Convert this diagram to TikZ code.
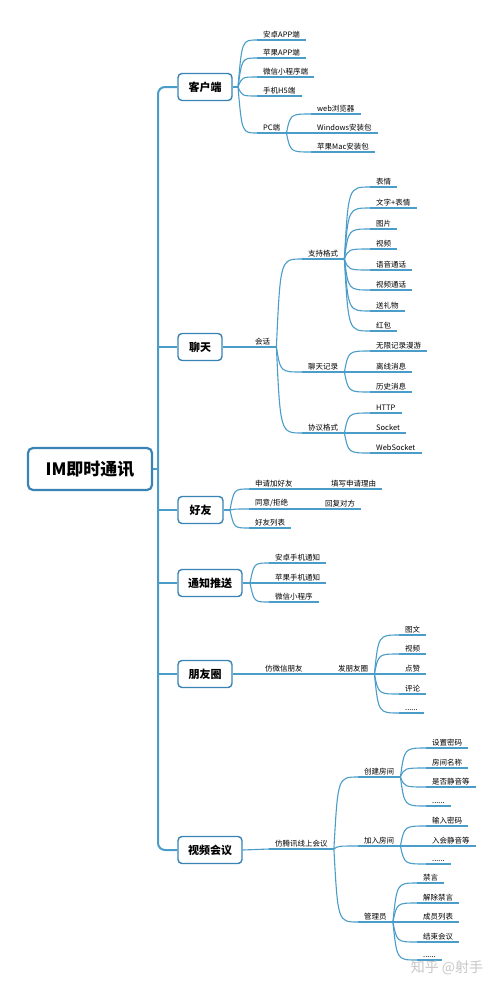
\documentclass[tikz,border=0pt]{standalone}
\usepackage{fontspec}
\setmainfont{Noto Sans CJK SC}
\usetikzlibrary{calc}
\definecolor{ln}{HTML}{4A9DC9}
\definecolor{bd}{HTML}{3983B5}
\tikzset{
  leaf/.style={anchor=south west, inner xsep=6pt, inner ysep=2pt, font=\fontsize{7.5}{9}\selectfont, text=black},
  ul/.style={draw=ln, line width=1.1pt},
  conn/.style={draw=ln, line width=1.1pt},
  spine/.style={draw=ln, line width=2pt},
  cat/.style={draw=bd, line width=1.4pt, rounded corners=4pt, fill=white, font=\fontsize{11}{13}\selectfont\bfseries, inner sep=0pt, minimum height=27pt, text=black},
  rootbox/.style={draw=bd, line width=2.2pt, rounded corners=5pt, fill=white, font=\fontsize{17}{20}\selectfont\bfseries, inner sep=0pt, minimum width=124pt, minimum height=42pt, text=black},
}
\newcommand\lf[4]{\node[leaf] (#1) at (#2,#3) {#4}; \draw[ul] (#1.south west) -- (#1.south east);}
\newcommand\br[2]{\draw[conn] let \p1=(#1), \p2=(#2.south west) in (\p1) .. controls (\x1+4pt,\y2) .. (\p2);}
\begin{document}
\begin{tikzpicture}[x=1pt,y=-1pt]
\fill[white] (0,0) rectangle (500,989);
\useasboundingbox (0,0) rectangle (500,989);

% root and categories
\node[rootbox] (root) at (90,469) {IM即时通讯};
\node[cat, minimum width=54pt] (c1) at (205,87) {客户端};
\node[cat, minimum width=44pt] (c2) at (200,347) {聊天};
\node[cat, minimum width=45pt] (c3) at (200.5,510) {好友};
\node[cat, minimum width=64pt] (c4) at (210,583) {通知推送};
\node[cat, minimum width=54pt] (c5) at (205,674) {朋友圈};
\node[cat, minimum width=64pt] (c6) at (210,850) {视频会议};

\coordinate (sp) at (158,469);
\draw[spine, rounded corners=7pt] (c1.west) -| (sp) |- (c6.west);
\draw[spine] (root.east) -- (sp);
\draw[spine] (sp |- c2.west) -- (c2.west);
\draw[spine] (sp |- c3.west) -- (c3.west);
\draw[spine] (sp |- c4.west) -- (c4.west);
\draw[spine] (sp |- c5.west) -- (c5.west);

% 客户端
\coordinate (kb) at (238,87);
\draw[conn] (c1.east) -- (kb);
\lf{k1}{257}{40}{安卓APP端}
\lf{k2}{257}{58}{苹果APP端}
\lf{k3}{257}{77}{微信小程序端}
\lf{k4}{257}{96}{手机H5端}
\lf{k5}{257}{133}{PC端}
\foreach \q in {k1,k2,k3,k4,k5} {\br{kb}{\q}}
\lf{k51}{311}{114}{web浏览器}
\lf{k52}{311}{133}{Windows安装包}
\lf{k53}{311}{152}{苹果Mac安装包}
\foreach \q in {k51,k52,k53} {\br{k5.south east}{\q}}

% 聊天
\lf{h0}{249}{347}{会话\hspace{4pt}}
\draw[conn] (c2.east) -- (h0.south west);
\lf{h1}{302}{259}{支持格式\hspace{3pt}}
\lf{h2}{302}{372}{聊天记录\hspace{3pt}}
\lf{h3}{302}{433}{协议格式\hspace{3pt}}
\foreach \q in {h1,h2,h3} {\br{h0.south east}{\q}}
\lf{h11}{370}{187}{表情}
\lf{h12}{370}{208}{文字+表情}
\lf{h13}{370}{229}{图片}
\lf{h14}{370}{249}{视频}
\lf{h15}{370}{270}{语音通话}
\lf{h16}{370}{290}{视频通话}
\lf{h17}{370}{311}{送礼物}
\lf{h18}{370}{331}{红包}
\foreach \q in {h11,h12,h13,h14,h15,h16,h17,h18} {\br{h1.south east}{\q}}
\lf{h21}{370}{351}{无限记录漫游}
\lf{h22}{370}{372}{离线消息}
\lf{h23}{370}{392}{历史消息}
\foreach \q in {h21,h22,h23} {\br{h2.south east}{\q}}
\lf{h31}{370}{413}{HTTP}
\lf{h32}{370}{433}{Socket}
\lf{h33}{370}{453}{WebSocket}
\foreach \q in {h31,h32,h33} {\br{h3.south east}{\q}}

% 好友
\coordinate (fb) at (230,510);
\draw[conn] (c3.east) -- (fb);
\lf{f1}{249}{489}{申请加好友}
\lf{f2}{249}{509}{同意/拒绝}
\lf{f3}{249}{528}{好友列表}
\foreach \q in {f1,f2,f3} {\br{fb}{\q}}
\lf{f1b}{325}{489}{填写申请理由}
\draw[conn] (f1.south east) -- (f1b.south west);
\lf{f2b}{319}{509}{回复对方}
\draw[conn] (f2.south east) -- (f2b.south west);

% 通知推送
\coordinate (tb) at (250,583);
\draw[conn] (c4.east) -- (tb);
\lf{t1}{269}{563}{安卓手机通知}
\lf{t2}{269}{583}{苹果手机通知}
\lf{t3}{269}{602}{微信小程序}
\foreach \q in {t1,t2,t3} {\br{tb}{\q}}

% 朋友圈
\lf{p0}{259}{674}{仿微信朋友}
\draw[conn] (c5.east) -- (p0.south west);
\lf{p1}{332}{674}{发朋友圈\hspace{4pt}}
\draw[conn] (p0.south east) -- (p1.south west);
\lf{p11}{399}{635}{图文}
\lf{p12}{399}{654}{视频}
\lf{p13}{399}{674}{点赞}
\lf{p14}{399}{694}{评论}
\lf{p15}{399}{713}{......}
\foreach \q in {p11,p12,p13,p14,p15} {\br{p1.south east}{\q}}

% 视频会议
\lf{v0}{269}{849}{仿腾讯线上会议\hspace{3pt}}
\draw[conn] (c6.east) -- (v0.south west);
\lf{v1}{358}{777}{创建房间}
\lf{v2}{358}{846}{加入房间}
\lf{v3}{358}{922}{管理员}
\foreach \q in {v1,v2,v3} {\br{v0.south east}{\q}}
\lf{v11}{426}{748}{设置密码}
\lf{v12}{426}{768}{房间名称}
\lf{v13}{426}{787}{是否静音等}
\lf{v14}{426}{806}{......}
\foreach \q in {v11,v12,v13,v14} {\br{v1.south east}{\q}}
\lf{v21}{426}{826}{输入密码}
\lf{v22}{426}{846}{入会静音等}
\lf{v23}{426}{864}{......}
\foreach \q in {v21,v22,v23} {\br{v2.south east}{\q}}
\lf{v31}{417}{883}{禁言}
\lf{v32}{417}{903}{解除禁言}
\lf{v33}{417}{922}{成员列表}
\lf{v34}{417}{942}{结束会议}
\lf{v35}{417}{960}{......}
\foreach \q in {v31,v32,v33,v34,v35} {\br{v3.south east}{\q}}

\node[text=black!22, font=\fontsize{14}{16}\selectfont] (wm) at (447,968) {知乎 @射手};
\end{tikzpicture}
\end{document}
